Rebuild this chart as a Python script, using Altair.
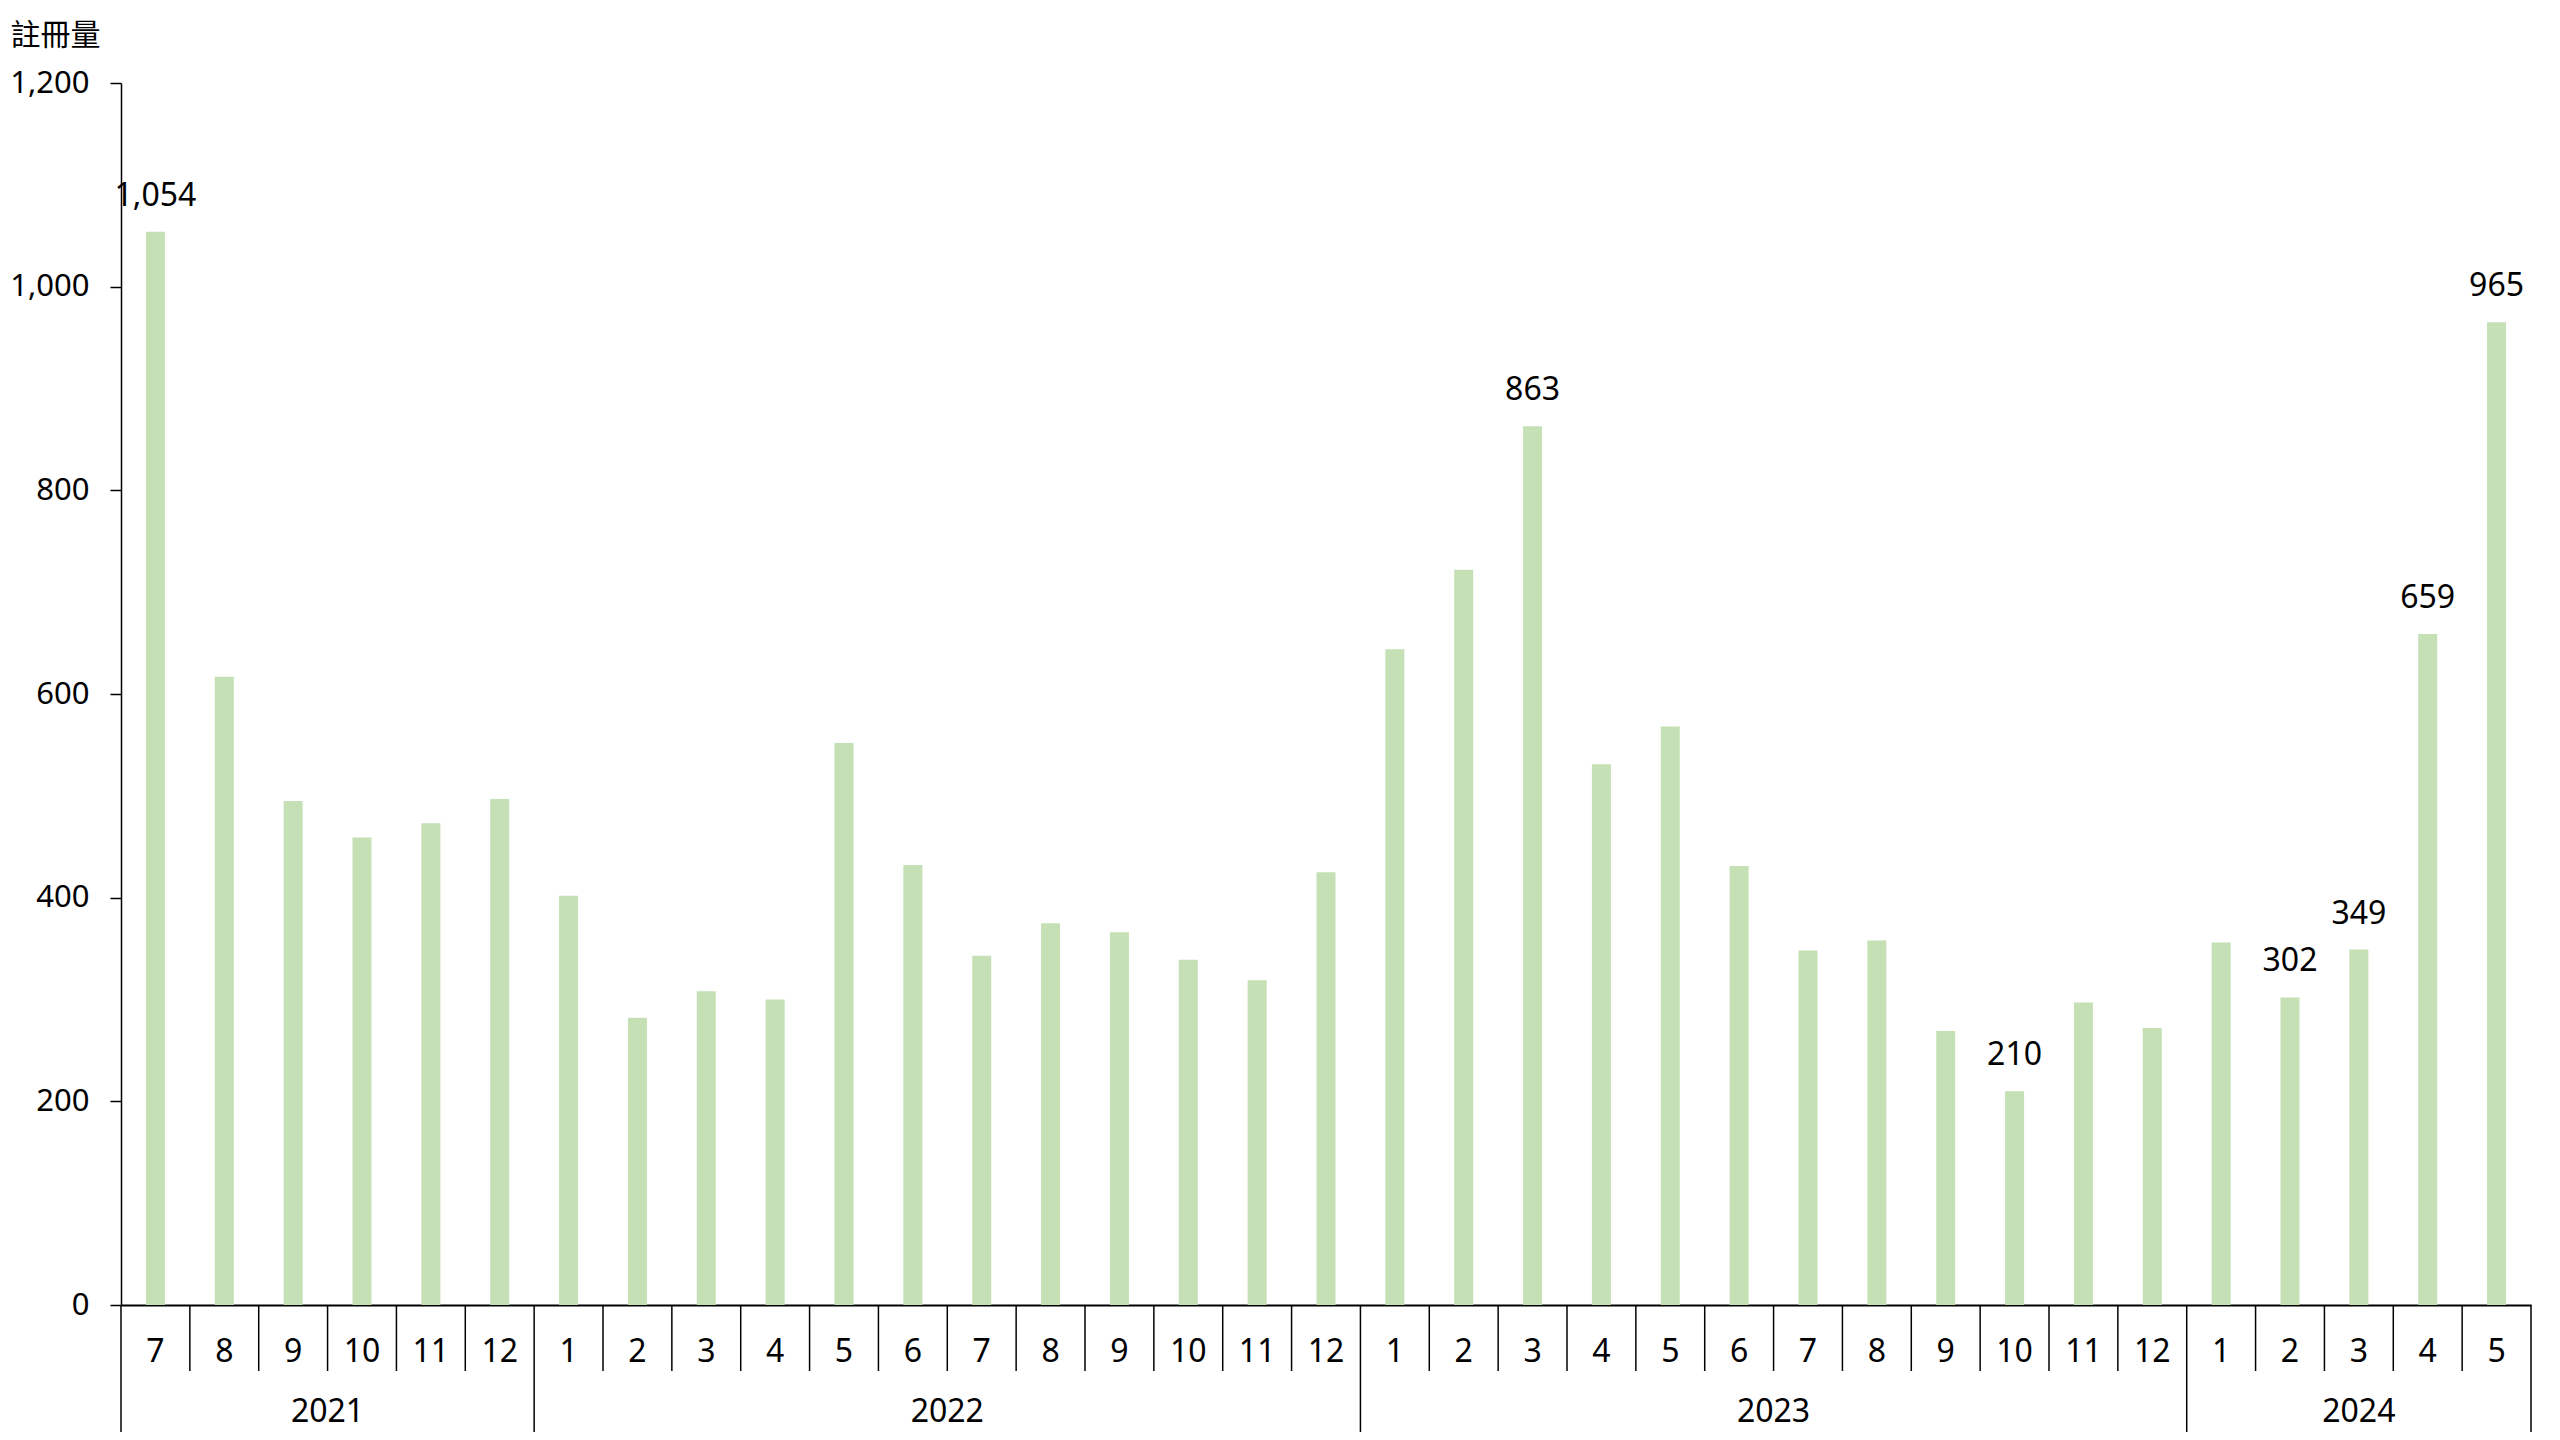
import altair as alt
import pandas as pd

# ---- data ----
years = [2021] * 6 + [2022] * 12 + [2023] * 12 + [2024] * 5
months = [7, 8, 9, 10, 11, 12,
          1, 2, 3, 4, 5, 6, 7, 8, 9, 10, 11, 12,
          1, 2, 3, 4, 5, 6, 7, 8, 9, 10, 11, 12,
          1, 2, 3, 4, 5]
values = [1054, 617, 495, 459, 473, 497,
          402, 282, 308, 300, 552, 432, 343, 375, 366, 339, 319, 425,
          644, 722, 863, 531, 568, 431, 348, 358, 269, 210, 297, 272,
          356, 302, 349, 659, 965]
labeled = ["2021-07", "2023-03", "2023-10", "2024-02", "2024-03", "2024-04", "2024-05"]
y_ticks = [0, 200, 400, 600, 800, 1000, 1200]
y_title = "註冊量"

# ---- tables built from the lists ----
keys = [f"{y}-{m:02d}" for y, m in zip(years, months)]
df = pd.DataFrame({
    "key": keys,
    "month": [str(m) for m in months],
    "value": values,
    "label": [f"{v:,}" if k in labeled else "" for k, v in zip(keys, values)],
})
n = len(keys)

year_rows = []
year_bounds = []
for yr in sorted(set(years)):
    idxs = [i for i, y in enumerate(years) if y == yr]
    s, e = idxs[0], idxs[-1] + 1
    year_rows.append({"year": str(yr), "mid": (s + e) / 2})
    year_bounds.append(s)
year_bounds.append(n)
years_df = pd.DataFrame(year_rows)
long_df = pd.DataFrame({"pos": year_bounds})
short_df = pd.DataFrame({"pos": [i for i in range(1, n) if i not in year_bounds]})

W, H = 2410, 1222
FONT = "Noto Sans"
GREEN = "#c5e0b4"

band_scale = alt.Scale(domain=keys, paddingInner=0.724, paddingOuter=0.362)
lin_scale = alt.Scale(domain=[0, n], nice=False, zero=False)

y_enc = alt.Y(
    "value:Q",
    scale=alt.Scale(domain=[0, 1200], nice=False),
    axis=alt.Axis(
        values=y_ticks, format=",.0f", grid=False,
        title=y_title, titleAngle=0, titleAlign="left", titleBaseline="alphabetic",
        titleX=-111, titleY=-39, titleFont="Noto Sans CJK TC", titleFontSize=30,
        titleFontWeight="normal", titleColor="black",
        labelFont=FONT, labelFontSize=31, labelColor="black", labelPadding=21,
        tickSize=11, tickColor="black", tickWidth=1.5,
        domainColor="black", domainWidth=1.5,
    ),
)

bars = alt.Chart(df).mark_bar(color=GREEN).encode(
    x=alt.X("key:N", sort=keys, scale=band_scale,
            axis=alt.Axis(labels=False, ticks=False, domain=True, domainColor="black",
                          domainWidth=2, title=None)),
    y=y_enc,
)

value_labels = alt.Chart(df).mark_text(
    baseline="alphabetic", dy=-26, font=FONT, fontSize=32, color="black"
).encode(
    x=alt.X("key:N", sort=keys, scale=band_scale, axis=None),
    y=alt.Y("value:Q"),
    text="label:N",
)

month_labels = alt.Chart(df).mark_text(
    baseline="alphabetic", font=FONT, fontSize=32, color="black"
).encode(
    x=alt.X("key:N", sort=keys, scale=band_scale, axis=None),
    y=alt.value(H + 57),
    text="month:N",
)

short_rules = alt.Chart(short_df).mark_rule(color="black", strokeWidth=1.5).encode(
    x=alt.X("pos:Q", scale=lin_scale, axis=None),
    y=alt.value(H),
    y2=alt.value(H + 66),
)

long_rules = alt.Chart(long_df).mark_rule(color="black", strokeWidth=1.5).encode(
    x=alt.X("pos:Q", scale=lin_scale, axis=None),
    y=alt.value(H),
    y2=alt.value(H + 140),
)

year_labels = alt.Chart(years_df).mark_text(
    baseline="alphabetic", font=FONT, fontSize=32, color="black"
).encode(
    x=alt.X("mid:Q", scale=lin_scale, axis=None),
    y=alt.value(H + 117),
    text="year:N",
)

chart = alt.layer(
    bars, value_labels, month_labels, short_rules, long_rules, year_labels
).resolve_scale(x="independent").properties(
    width=W, height=H,
    autosize=alt.AutoSizeParams(type="none"),
    padding={"left": 113, "top": 75, "right": 15, "bottom": 127},
    background="white",
).configure_view(stroke=None)

chart.save("out.html", embed_options={"renderer": "svg", "actions": False})
